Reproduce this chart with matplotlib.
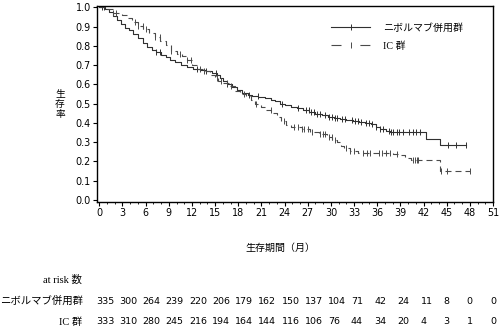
import numpy as np
import matplotlib
matplotlib.use('Agg')
import matplotlib.pyplot as plt
from matplotlib.lines import Line2D
import matplotlib.transforms as mtransforms

# ================================
# Data (Kaplan-Meier steps)

nivo_t = [0, 0.8, 1.3, 1.8, 2.3, 2.8, 3.3, 3.9, 4.4, 5.0, 5.6, 6.2, 6.8, 7.4, 8.0,
          8.6, 9.2, 9.8, 10.6, 11.4, 12.2, 13.0, 13.8, 14.6, 15.2, 15.6, 16.0, 16.5,
          17.2, 17.8, 18.5, 19.2, 19.8, 20.6, 21.4, 22.2, 22.8, 23.4, 24.0, 24.8,
          25.6, 26.4, 27.2, 28.0, 28.8, 29.6, 30.4, 31.2, 32.0, 32.8, 33.6, 34.4,
          35.2, 35.8, 36.4, 37.2, 37.7, 42.3, 44.1]
nivo_s = [1.0, 0.99, 0.975, 0.955, 0.935, 0.915, 0.895, 0.88, 0.86, 0.84, 0.815,
          0.795, 0.78, 0.77, 0.755, 0.74, 0.725, 0.715, 0.70, 0.69, 0.68, 0.672,
          0.668, 0.66, 0.65, 0.635, 0.615, 0.60, 0.585, 0.57, 0.555, 0.545, 0.538,
          0.533, 0.528, 0.52, 0.512, 0.50, 0.492, 0.483, 0.475, 0.465, 0.455, 0.448,
          0.44, 0.433, 0.428, 0.42, 0.413, 0.41, 0.406, 0.40, 0.392, 0.38, 0.366,
          0.358, 0.353, 0.317, 0.285]
nivo_end = 47.5
nivo_cens = [0.3, 0.6, 7.4, 7.9, 12.6, 13.8, 15.1, 16.6, 19.4, 20.5, 23.7, 25.7,
             26.8, 27.1, 27.4, 27.8, 28.2, 28.6, 29.3, 29.7, 30.1, 30.5, 30.8, 31.4,
             31.8, 32.7, 33.1, 33.5, 33.9, 34.5, 35.0, 35.3, 35.9, 36.4, 36.8, 37.5,
             37.8, 38.1, 38.5, 38.8, 39.4, 40.1, 40.6, 41.0, 41.5, 45.2, 46.2, 47.5]

ic_t = [0, 1.0, 1.8, 3.0, 3.6, 4.2, 5.0, 5.7, 6.4, 7.2, 7.9, 8.6, 9.3, 10.0, 10.7,
        11.3, 12.0, 12.6, 13.4, 14.3, 15.0, 15.4, 16.0, 16.8, 17.6, 18.2, 19.0,
        19.6, 20.2, 20.9, 21.6, 22.3, 23.0, 23.6, 24.2, 24.8, 26.2, 27.3, 28.4,
        29.5, 30.2, 30.8, 31.3, 31.7, 32.5, 33.5, 38.0, 38.9, 39.6, 40.4, 44.1]
ic_s = [1.0, 0.99, 0.97, 0.96, 0.945, 0.925, 0.905, 0.885, 0.865, 0.845, 0.825,
        0.805, 0.775, 0.76, 0.745, 0.725, 0.70, 0.68, 0.668, 0.65, 0.635, 0.62,
        0.605, 0.59, 0.565, 0.55, 0.54, 0.52, 0.50, 0.48, 0.465, 0.45, 0.43, 0.41,
        0.39, 0.378, 0.37, 0.355, 0.34, 0.328, 0.31, 0.30, 0.28, 0.268, 0.254,
        0.245, 0.24, 0.233, 0.22, 0.207, 0.15]
ic_end = 48.0
ic_cens = [1.8, 2.2, 4.6, 5.0, 5.6, 6.1, 7.2, 7.8, 9.3, 10.4, 11.3, 11.9, 13.0,
           13.6, 15.3, 15.8, 16.6, 17.1, 18.8, 20.3, 22.2, 23.9, 25.2, 25.8, 26.2,
           26.5, 27.0, 27.5, 28.6, 29.0, 29.3, 29.7, 30.1, 30.5, 32.0, 32.5, 33.0,
           34.2, 34.7, 35.1, 36.2, 36.6, 37.2, 37.6, 38.5, 40.7, 40.9, 41.1, 41.3,
           44.3, 45.0, 48.0]

risk_months = [0, 3, 6, 9, 12, 15, 18, 21, 24, 27, 30, 33, 36, 39, 42, 45, 48, 51]
risk_nivo = [335, 300, 264, 239, 220, 206, 179, 162, 150, 137, 104, 71, 42, 24, 11, 8, 0, 0]
risk_ic = [333, 310, 280, 245, 216, 194, 164, 144, 116, 106, 76, 44, 34, 20, 4, 3, 1, 0]

label_nivo = 'ニボルマブ併用群'
label_ic = 'IC 群'

# ================================
jp = ['Noto Sans CJK JP', 'DejaVu Sans']
jp_serif = ['Liberation Serif', 'Noto Sans CJK JP']

fig = plt.figure(figsize=(4.99, 3.30), dpi=100)
ax = fig.add_axes([97 / 499, 1 - 202 / 330, (493 - 97) / 499, 196 / 330])

c_nivo = '#303030'
c_ic = '#4a4a4a'


def km_line(t, s, end):
    return list(t) + [end], list(s) + [s[-1]]


def at_time(t, s, x):
    idx = np.searchsorted(np.array(t), np.array(x), side='right') - 1
    return np.array(s)[idx]


xs, ys = km_line(nivo_t, nivo_s, nivo_end)
ax.plot(xs, ys, drawstyle='steps-post', color=c_nivo, lw=0.8)
ax.plot(nivo_cens, at_time(nivo_t, nivo_s, nivo_cens), ls='none', marker='|',
        ms=4, mew=0.7, color=c_nivo)

xs, ys = km_line(ic_t, ic_s, ic_end)
ax.plot(xs, ys, drawstyle='steps-post', color=c_ic, lw=0.8, dashes=(5.4, 3.6))
ax.plot(ic_cens, at_time(ic_t, ic_s, ic_cens), ls='none', marker='|',
        ms=4, mew=0.7, color=c_ic)

ax.set_xlim(-0.3, 51.0)
ax.set_ylim(-0.0104, 1.0067)
ax.set_xticks(risk_months)
ax.set_xticks(np.arange(0, 52, 1), minor=True)
ax.set_yticks(np.arange(0, 1.01, 0.1))
ax.set_yticklabels([f'{v:.1f}' for v in np.arange(0, 1.01, 0.1)])
ax.tick_params(axis='both', which='major', direction='out', length=3, width=0.8,
               labelsize=6.9, pad=1.5)
ax.tick_params(axis='x', which='minor', direction='out', length=1.5, width=0.6)
for sp in ax.spines.values():
    sp.set_linewidth(1.0)

# legend
h_nivo = Line2D([], [], color=c_nivo, lw=0.8, marker='|', ms=5, mew=0.7)
h_ic = Line2D([], [], color=c_ic, lw=0.8, marker='|', ms=5, mew=0.7, dashes=(9, 17))
leg = ax.legend([h_nivo, h_ic], [label_nivo, label_ic], loc='upper left',
                bbox_to_anchor=(331 / 499, 1 - 23 / 330),
                bbox_transform=fig.transFigure, frameon=False, numpoints=1,
                handlelength=3.9, handletextpad=1.3, borderpad=0, borderaxespad=0,
                labelspacing=0.85, prop={'family': jp_serif, 'size': 7.2})

# axis labels
fig.text(60 / 499, 1 - 104 / 330, '生\n存\n率', ha='center', va='center',
         fontsize=7, family=jp, linespacing=1.0)
fig.text(280 / 499, 1 - 248 / 330, '生存期間（月）', ha='center', va='center',
         fontsize=7.2, family=jp)

# at risk table
fig.text(82 / 499, 1 - 280 / 330, 'at risk 数', ha='right', va='center',
         fontsize=7.5, family=jp_serif)
fig.text(83 / 499, 1 - 301 / 330, label_nivo, ha='right', va='center',
         fontsize=7.5, family=jp)
fig.text(82 / 499, 1 - 322 / 330, label_ic, ha='right', va='center',
         fontsize=7.5, family=jp_serif)

trans = mtransforms.blended_transform_factory(ax.transData, fig.transFigure)
for m, a, b in zip(risk_months, risk_nivo, risk_ic):
    ax.text(m - 0.4, 1 - 301 / 330, str(a), transform=trans, ha='left',
            va='center', fontsize=6.8, clip_on=False)
    ax.text(m - 0.4, 1 - 322 / 330, str(b), transform=trans, ha='left',
            va='center', fontsize=6.8, clip_on=False)

fig.savefig('out.png', dpi=100)
